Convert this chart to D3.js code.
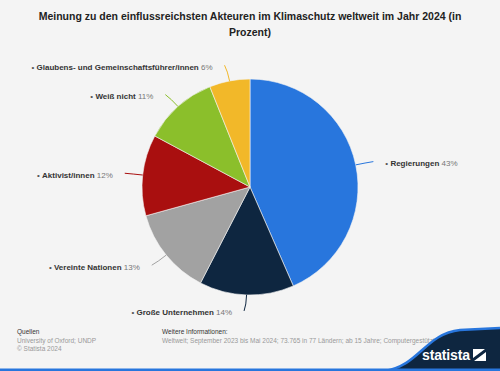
<!DOCTYPE html>
<html>
<head>
<meta charset="utf-8">
<script src="https://cdn.jsdelivr.net/npm/d3@7"></script>
<style>
  body { margin: 0; background: #f4f4f4; }
  svg { display: block; font-family: "Liberation Sans", Arial, sans-serif; }
</style>
</head>
<body>
<div class="chart"></div>
<script>
// data
var categories = ["Regierungen", "Große Unternehmen", "Vereinte Nationen", "Aktivist/innen", "Weiß nicht", "Glaubens- und Gemeinschaftsführer/innen"];
var values = [43, 14, 13, 12, 11, 6];
var colors = ["#2876dd", "#0e2640", "#a2a2a2", "#a90f0f", "#8bbf2b", "#f2b829"];

var titleLines = ["Meinung zu den einflussreichsten Akteuren im Klimaschutz weltweit im Jahr 2024 (in", "Prozent)"];
var sourceLines = ["Quellen", "University of Oxford; UNDP", "© Statista 2024"];
var infoLines = ["Weitere Informationen:", "Weltweit; September 2023 bis Mai 2024; 73.765 in 77 Ländern; ab 15 Jahre; Computergestützte Befragung"];

var width = 500, height = 371,
    cx = 250, cy = 187, radius = 108;

var svg = d3.select(".chart").append("svg")
    .attr("width", width)
    .attr("height", height);

svg.append("rect").attr("width", width).attr("height", height).attr("fill", "#f4f4f4");

// title
svg.append("g").selectAll("text")
    .data(titleLines)
  .enter().append("text")
    .attr("x", width / 2)
    .attr("y", (d, i) => 20 + i * 16)
    .attr("text-anchor", "middle")
    .attr("font-size", "10.5px")
    .attr("font-weight", "bold")
    .attr("fill", "#222")
    .text(d => d);

var pie = d3.pie().sort(null).value(d => d.value);
var arc = d3.arc().innerRadius(0).outerRadius(radius);

var data = categories.map((c, i) => ({name: c, value: values[i], color: colors[i]}));
var arcs = pie(data);

var g = svg.append("g").attr("transform", "translate(" + cx + "," + cy + ")");

g.selectAll(".slice")
    .data(arcs)
  .enter().append("path")
    .attr("class", "slice")
    .attr("d", arc)
    .attr("fill", d => d.data.color)
    .attr("stroke", "#f4f4f4")
    .attr("stroke-width", 0.6);

function pt(d, r) {
  var a = (d.startAngle + d.endAngle) / 2;
  return [Math.sin(a) * r, -Math.cos(a) * r];
}

// leader lines
g.selectAll(".leader")
    .data(arcs)
  .enter().append("path")
    .attr("class", "leader")
    .attr("fill", "none")
    .attr("stroke", d => d.data.color)
    .attr("stroke-width", 1)
    .attr("d", d => {
      var p0 = pt(d, radius), p1 = pt(d, radius + 10), p2 = pt(d, radius + 16);
      var right = p2[0] > 0;
      var end = [p2[0] + (right ? 2 : -2), p2[1]];
      return "M" + p0 + "Q" + p1 + " " + end;
    });

// labels
var labels = g.selectAll(".label")
    .data(arcs)
  .enter().append("text")
    .attr("class", "label")
    .attr("font-size", "8px")
    .attr("text-anchor", d => pt(d, 1)[0] > 0 ? "start" : "end")
    .attr("x", d => { var p = pt(d, radius + 16); return p[0] > 0 ? p[0] + 14 : p[0] - 14; })
    .attr("y", d => pt(d, radius + 16)[1] + 4.5);

labels.append("tspan").attr("fill", "#555").text("• ");
labels.append("tspan").attr("fill", "#333").attr("font-weight", "bold").text(d => d.data.name);
labels.append("tspan").attr("fill", "#777").text(d => " " + d.data.value + "%");

// footer
svg.append("g").selectAll("text")
    .data(sourceLines)
  .enter().append("text")
    .attr("x", 17)
    .attr("y", (d, i) => 334 + i * 8.5)
    .attr("font-size", "6.5px")
    .attr("fill", (d, i) => i == 0 ? "#333" : "#999")
    .text(d => d);

svg.append("g").selectAll("text")
    .data(infoLines)
  .enter().append("text")
    .attr("x", 162)
    .attr("y", (d, i) => 334 + i * 8.5)
    .attr("font-size", "6.5px")
    .attr("fill", (d, i) => i == 0 ? "#333" : "#999")
    .text(d => d);

// statista wave
svg.append("path")
    .attr("d", "M385,371 C420,365 425,334 460,330 L500,328 L500,371 Z")
    .attr("fill", "#0e2640");
svg.append("path")
    .attr("d", "M385,371 C420,365 425,334 460,330 L500,328")
    .attr("fill", "none")
    .attr("stroke", "#2876dd")
    .attr("stroke-width", 2.5);
svg.append("rect")
    .attr("x", 0).attr("y", 368.5).attr("width", width).attr("height", 2.5)
    .attr("fill", "#2876dd");

svg.append("text")
    .attr("x", 422)
    .attr("y", 360)
    .attr("font-size", "14px")
    .attr("font-weight", "bold")
    .attr("fill", "#fff")
    .attr("textLength", 48)
    .text("statista");
svg.append("path")
    .attr("d", "M473,349 L485,349 L473,358 Z M474,361 L486,352 L486,361 Z")
    .attr("fill", "#fff");
</script>
</body>
</html>
